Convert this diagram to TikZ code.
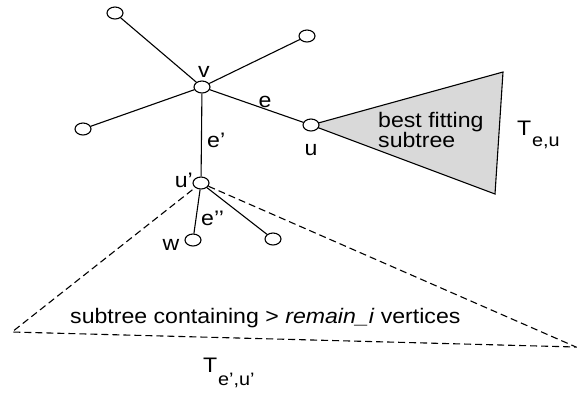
\documentclass[tikz,border=0pt]{standalone}
\usepackage{fontspec}
\setmainfont{Liberation Sans}[FakeStretch=1.1]
\usetikzlibrary{shapes.geometric,backgrounds}
\begin{document}
\begin{tikzpicture}[x=1pt,y=-1pt,
  vtx/.style={ellipse,draw,fill=white,minimum width=16pt,minimum height=12pt,inner sep=0pt,line width=1.1pt},
  edge/.style={line width=1.1pt},
  dashedge/.style={line width=1.1pt,dash pattern=on 7pt off 4pt},
  lbl/.style={anchor=base,inner sep=0pt,font=\fontsize{21}{24}\selectfont},
  lblw/.style={lbl,anchor=base west},
  lble/.style={lbl,anchor=base east},
  sub/.style={anchor=base west,inner sep=0pt,font=\fontsize{18}{20}\selectfont}]
\useasboundingbox (0,0) rectangle (577,392);
\definecolor{subgray}{RGB}{217,217,217}
% vertices
\node[vtx] (tl) at (115,13) {};
\node[vtx] (tr) at (307,36) {};
\node[vtx] (v) at (202,87) {};
\node[vtx] (l) at (83,129) {};
\node[vtx] (u) at (311,125) {};
\node[vtx] (up) at (201,183) {};
\node[vtx] (w) at (193,240) {};
\node[vtx] (r) at (273,239) {};
% corner points
\coordinate (gt) at (503,72);
\coordinate (gb) at (495,194);
\coordinate (dl) at (12,332);
\coordinate (dr) at (576,347);
\begin{scope}[on background layer]
  \draw[edge,fill=subgray] (u.center) -- (gt) -- (gb) -- cycle;
  \draw[dashedge] (up.center) -- (dl) -- (dr) -- cycle;
  \draw[edge] (v) -- (tl);
  \draw[edge] (v) -- (tr);
  \draw[edge] (v) -- (l);
  \draw[edge] (v) -- (u);
  \draw[edge] (v) -- (up);
  \draw[edge] (up) -- (w);
  \draw[edge] (up) -- (r);
\end{scope}
% labels
\node[lbl] (lv) at (204,77) {v};
\node[lbl] (le) at (265,107) {e};
\node[lblw] (lep) at (207,147) {e’};
\node[lbl] (lu) at (311,155) {u};
\node[lble] (lup) at (193,187) {u’};
\node[lblw] (lepp) at (201,225) {e’’};
\node[lbl] (lw) at (171,250) {w};
\node[lblw] (bf1) at (378,127) {best fitting};
\node[lblw] (bf2) at (378,147) {subtree};
\node[lblw] (teu) at (517,135) {T};
\node[sub] (teus) at (532,146) {e,u};
\node[lblw] (bot) at (70,323) {subtree containing > \textit{remain\_i} vertices};
\node[lblw] (tep) at (203,372) {T};
\node[sub] (teps) at (218,385) {e’,u’};
\end{tikzpicture}
\end{document}
